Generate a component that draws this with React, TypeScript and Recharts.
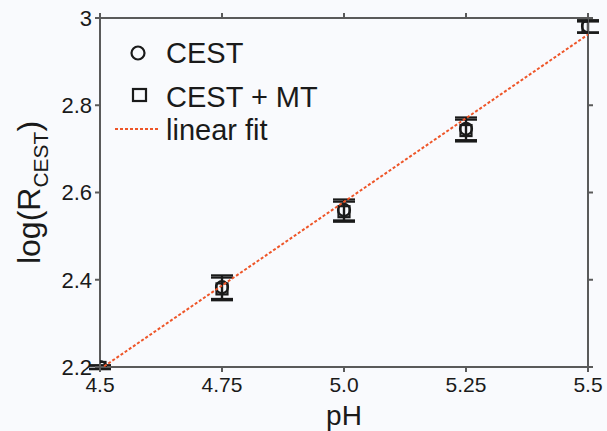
import React from 'react';
import { ScatterChart, Scatter, XAxis, YAxis, ErrorBar, Customized } from 'recharts';

const phValues = [4.5, 4.75, 5.0, 5.25, 5.5];
const cestValues = [2.2, 2.383, 2.56, 2.746, 2.981];
const cestErrors = [0.004, 0.027, 0.024, 0.026, 0.014];
const cestMtValues = [2.199, 2.379, 2.556, 2.742, 2.979];
const cestMtErrors = [0.004, 0.026, 0.023, 0.025, 0.013];
const fitPh = [4.5, 5.5];
const fitValues = [2.195, 2.962];
const xTicks = [4.5, 4.75, 5.0, 5.25, 5.5];
const xTickLabels = ['4.5', '4.75', '5.0', '5.25', '5.5'];
const yTicks = [2.2, 2.4, 2.6, 2.8, 3.0];
const yTickLabels = ['2.2', '2.4', '2.6', '2.8', '3'];
const legendLabels = ['CEST', 'CEST + MT', 'linear fit'];

const cestData = phValues.map((x, i) => ({ x, y: cestValues[i], err: cestErrors[i] }));
const cestMtData = phValues.map((x, i) => ({ x, y: cestMtValues[i], err: cestMtErrors[i] }));
const fitData = fitPh.map((x, i) => ({ x, y: fitValues[i] }));

const FONT = '"Liberation Sans", Arial, sans-serif';
const AXIS = '#5a5a5a';
const INK = '#1a1a1a';
const FIT = '#ee5528';

const fmtX = (v: number) => {
  const i = xTicks.findIndex((t) => Math.abs(t - v) < 1e-9);
  return i >= 0 ? xTickLabels[i] : String(v);
};
const fmtY = (v: number) => {
  const i = yTicks.findIndex((t) => Math.abs(t - v) < 1e-9);
  return i >= 0 ? yTickLabels[i] : String(v);
};

const CircleShape = (p: any) => (
  <circle cx={p.cx} cy={p.cy} r={6} fill="none" stroke={INK} strokeWidth={2.2} />
);
const SquareShape = (p: any) => (
  <rect x={p.cx - 5.5} y={p.cy - 5.5} width={11} height={11} fill="none" stroke={INK} strokeWidth={2.2} />
);
const NoShape = () => <g />;

const YLabel = (props: any) => {
  const vb = props.viewBox || { x: 0, y: 18, width: 100, height: 349 };
  const cy = vb.y + vb.height / 2;
  const cx = 40;
  return (
    <text
      x={cx}
      y={cy}
      transform={`rotate(-90, ${cx}, ${cy})`}
      textAnchor="middle"
      fontFamily={FONT}
      fontSize={32}
      fill={INK}
    >
      log(R
      <tspan fontSize={21} dy={8}>CEST</tspan>
      <tspan dy={-8}>)</tspan>
    </text>
  );
};

const XLabel = (props: any) => {
  const vb = props.viewBox || { x: 100, y: 367, width: 488, height: 64 };
  return (
    <text x={vb.x + vb.width / 2} y={425} textAnchor="middle" fontFamily={FONT} fontSize={28} fill={INK}>
      pH
    </text>
  );
};

const LegendBox = () => (
  <g fontFamily={FONT} fontSize={29} fill={INK}>
    <circle cx={138} cy={53} r={6.5} fill="none" stroke={INK} strokeWidth={2.2} />
    <text x={166} y={63}>{legendLabels[0]}</text>
    <rect x={133} y={89} width={13} height={12} fill="none" stroke={INK} strokeWidth={2.2} />
    <text x={166} y={107}>{legendLabels[1]}</text>
    <line x1={115} y1={129} x2={158} y2={129} stroke={FIT} strokeWidth={2} strokeDasharray="3 2" />
    <text x={166} y={140}>{legendLabels[2]}</text>
  </g>
);

export default function App() {
  return (
    <div style={{ position: 'absolute', left: 0, top: 0, width: 607, height: 431, background: '#f9fafd' }}>
      <ScatterChart width={607} height={431} margin={{ top: 0, right: 0, bottom: 0, left: 0 }}>
        <XAxis
          xAxisId="b"
          type="number"
          dataKey="x"
          domain={[4.5, 5.5]}
          ticks={xTicks}
          tickFormatter={fmtX}
          height={64}
          allowDataOverflow
          axisLine={{ stroke: AXIS, strokeWidth: 2 }}
          tickLine={{ stroke: AXIS, strokeWidth: 2 }}
          tickSize={5}
          tick={{ fontFamily: FONT, fontSize: 21, fill: INK }}
          tickMargin={5}
          label={<XLabel />}
        />
        <XAxis
          xAxisId="t"
          orientation="top"
          type="number"
          dataKey="x"
          domain={[4.5, 5.5]}
          ticks={xTicks}
          height={18}
          allowDataOverflow
          axisLine={{ stroke: AXIS, strokeWidth: 2 }}
          tickLine={{ stroke: AXIS, strokeWidth: 2 }}
          tickSize={5}
          tick={NoShape}
        />
        <YAxis
          yAxisId="l"
          type="number"
          dataKey="y"
          domain={[2.2, 3.0]}
          ticks={yTicks}
          tickFormatter={fmtY}
          width={100}
          allowDataOverflow
          axisLine={{ stroke: AXIS, strokeWidth: 2 }}
          tickLine={{ stroke: AXIS, strokeWidth: 2 }}
          tickSize={5}
          tickMargin={3}
          tick={{ fontFamily: FONT, fontSize: 22, fill: INK }}
          label={<YLabel />}
        />
        <YAxis
          yAxisId="r"
          orientation="right"
          type="number"
          dataKey="y"
          domain={[2.2, 3.0]}
          ticks={yTicks}
          width={19}
          allowDataOverflow
          axisLine={{ stroke: AXIS, strokeWidth: 2 }}
          tickLine={{ stroke: AXIS, strokeWidth: 2 }}
          tickSize={5}
          tick={NoShape}
        />
        <Scatter xAxisId="b" yAxisId="l" data={cestData} shape={CircleShape} isAnimationActive={false}>
          <ErrorBar dataKey="err" direction="y" width={11} stroke={INK} strokeWidth={2.2} />
        </Scatter>
        <Scatter xAxisId="b" yAxisId="l" data={cestMtData} shape={SquareShape} isAnimationActive={false}>
          <ErrorBar dataKey="err" direction="y" width={11} stroke={INK} strokeWidth={2.2} />
        </Scatter>
        <Scatter
          xAxisId="b"
          yAxisId="l"
          data={fitData}
          shape={NoShape}
          line={{ stroke: FIT, strokeWidth: 2, strokeDasharray: '3 2' }}
          isAnimationActive={false}
        />
        <Customized component={LegendBox} />
      </ScatterChart>
    </div>
  );
}
